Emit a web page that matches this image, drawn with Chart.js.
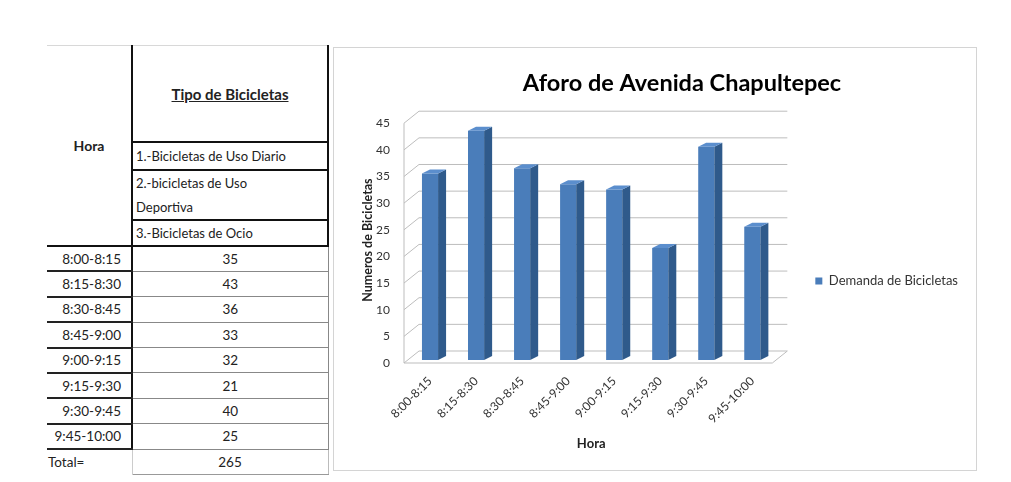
<!DOCTYPE html>
<html>
<head>
<meta charset="utf-8">
<script src="https://cdn.jsdelivr.net/npm/chart.js@4.4.1/dist/chart.umd.min.js"></script>
<style>
  body{margin:0;background:#fff;width:1011px;height:482px;overflow:hidden;font-family:Lato,"Open Sans",sans-serif;position:relative;}
  .tabla{position:absolute;left:47px;top:45px;border-collapse:collapse;font-size:13.5px;color:#222;table-layout:fixed;}
  .tabla td{padding:0;vertical-align:middle;}
  .c1{width:85px;}
  .c2{width:196px;}
  .hora{border-top:1px solid #d8d8d8;border-right:2px solid #111;border-bottom:2px solid #111;text-align:center;font-weight:bold;font-size:14px;}
  .tipo{border-top:1px solid #d8d8d8;border-right:2px solid #111;border-bottom:2px solid #111;text-align:center;font-weight:bold;font-size:15px;text-decoration:underline;height:95px;}
  .item{border-right:2px solid #111;border-bottom:2px solid #111;padding-left:3px !important;line-height:24px;font-size:13px;}
  .hr{border-right:2px solid #111;border-bottom:2px solid #222;text-align:right;padding-right:10px !important;height:23.4px;}
  .val{border-right:1px solid #888;border-bottom:1px solid #888;text-align:center;}
  .tot{border-right:1px solid #ccc;text-align:left;padding-left:1px !important;height:24px;}
  .totv{border-right:1px solid #bbb;border-bottom:1px solid #999;text-align:center;}
  .marco{position:absolute;left:333px;top:47px;width:644px;height:424px;border:1px solid #d4d4d4;box-sizing:border-box;}
  .lienzo{position:absolute;left:333px;top:47px;width:698px;height:424px;}
</style>
</head>
<body>
<table class="tabla" id="tabla"></table>
<div class="marco"></div>
<div class="lienzo"><canvas id="grafica"></canvas></div>
<script>
var horas = ['8:00-8:15','8:15-8:30','8:30-8:45','8:45-9:00','9:00-9:15','9:15-9:30','9:30-9:45','9:45-10:00'];
var demanda = [35,43,36,33,32,21,40,25];
var tiposBici = ['1.-Bicicletas de Uso Diario','2.-bicicletas de Uso<br>Deportiva','3.-Bicicletas de Ocio'];
var yMax = 45;
var yPaso = 5;

// offsets for the fake 3d look
var FRENTE = {dx:-3, dy:3};
var FONDO = {dx:12, dy:-9};
var LADO = {dx:8, dy:-4};

function RenderTabla(){
  var t = document.getElementById('tabla');
  var alturas = [28,47,25];
  var html = '<colgroup><col class="c1"><col class="c2"></colgroup>';
  html += '<tr><td class="hora" rowspan="4">Hora</td><td class="tipo">Tipo de Bicicletas</td></tr>';
  for(var i=0;i<tiposBici.length;i++){
    html += '<tr><td class="item" style="height:'+(alturas[i]-2)+'px">'+tiposBici[i]+'</td></tr>';
  }
  var total = 0;
  for(var j=0;j<horas.length;j++){
    total += demanda[j];
    html += '<tr><td class="hr">'+horas[j]+'</td><td class="val">'+demanda[j]+'</td></tr>';
  }
  html += '<tr><td class="tot">Total=</td><td class="totv">'+total+'</td></tr>';
  t.innerHTML = html;
}

function linea(ctx,x1,y1,x2,y2){
  ctx.beginPath(); ctx.moveTo(x1,y1); ctx.lineTo(x2,y2); ctx.stroke();
}
function poligono(ctx,pts){
  ctx.beginPath(); ctx.moveTo(pts[0][0],pts[0][1]);
  for(var i=1;i<pts.length;i++) ctx.lineTo(pts[i][0],pts[i][1]);
  ctx.closePath(); ctx.fill();
}

var paredes3d = {
  id:'paredes3d',
  beforeDatasetsDraw(chart){
    var ctx = chart.ctx, a = chart.chartArea, y = chart.scales.y;
    ctx.save();
    ctx.strokeStyle = '#bdbdbd';
    ctx.lineWidth = 1;
    y.ticks.forEach(function(t){
      var py = y.getPixelForValue(t.value);
      linea(ctx, a.left+FRENTE.dx, py+FRENTE.dy, a.left+FONDO.dx, py+FONDO.dy);
      linea(ctx, a.left+FONDO.dx, py+FONDO.dy, a.right+FONDO.dx, py+FONDO.dy);
    });
    var y0 = y.getPixelForValue(0), yt = y.getPixelForValue(yMax);
    linea(ctx, a.left+FRENTE.dx, y0+FRENTE.dy, a.left+FRENTE.dx, yt+FRENTE.dy);
    linea(ctx, a.left+FRENTE.dx, y0+FRENTE.dy, a.right+FRENTE.dx, y0+FRENTE.dy);
    linea(ctx, a.right+FRENTE.dx, y0+FRENTE.dy, a.right+FONDO.dx, y0+FONDO.dy);
    ctx.restore();
  },
  afterDatasetsDraw(chart){
    var ctx = chart.ctx;
    ctx.save();
    chart.getDatasetMeta(0).data.forEach(function(bar){
      var p = bar.getProps(['x','y','base','width'], true);
      var l = p.x - p.width/2, r = p.x + p.width/2;
      ctx.fillStyle = '#2f5a8b';
      poligono(ctx, [[r,p.y],[r+LADO.dx,p.y+LADO.dy],[r+LADO.dx,p.base+LADO.dy],[r,p.base]]);
      ctx.fillStyle = '#5b8ecd';
      poligono(ctx, [[l,p.y],[l+LADO.dx,p.y+LADO.dy],[r+LADO.dx,p.y+LADO.dy],[r,p.y]]);
    });
    ctx.restore();
  }
};

function RenderGrafica(){
  Chart.defaults.font.family = 'Lato, "Open Sans", sans-serif';
  new Chart(document.getElementById('grafica'), {
    type:'bar',
    data:{
      labels:horas,
      datasets:[{
        label:'Demanda de Bicicletas',
        data:demanda,
        backgroundColor:'#4a7dba',
        borderWidth:0,
        barPercentage:0.35,
        categoryPercentage:1
      }]
    },
    options:{
      responsive:true,
      maintainAspectRatio:false,
      animation:false,
      layout:{padding:{left:41,right:41,top:0,bottom:0}},
      plugins:{
        title:{display:true,text:'Aforo de Avenida Chapultepec',color:'#000',
          font:{size:23.5,weight:'bold'},padding:{top:22,bottom:23}},
        legend:{
          position:'right',
          maxWidth:240,
          // empty title only pushes the item down a bit
          title:{display:true,text:' ',font:{size:10},padding:{top:16,bottom:16}},
          labels:{boxWidth:7,boxHeight:7,color:'#333',font:{size:13},padding:10}
        },
        tooltip:{enabled:false}
      },
      scales:{
        x:{
          grid:{display:false,drawTicks:false},
          border:{display:false},
          ticks:{minRotation:45,maxRotation:45,autoSkip:false,padding:14,color:'#333',font:{size:12}},
          title:{display:true,text:'Hora',color:'#222',font:{size:13,weight:'bold'},padding:{top:0,bottom:19}},
          afterFit:function(s){ s.height = 111; }
        },
        y:{
          min:0,max:yMax,
          grid:{display:false,drawTicks:false},
          border:{display:false},
          ticks:{stepSize:yPaso,padding:17,labelOffset:3,color:'#333',font:{size:12}},
          title:{display:true,text:'Numeros de Bicicletas',color:'#222',font:{size:12.5,weight:'bold'},padding:{top:-13.5,bottom:0}},
          afterFit:function(s){ s.width = 33; }
        },
        // spacer between plot and legend
        yr:{
          position:'right',
          grid:{display:false},
          border:{display:false},
          ticks:{display:false},
          afterFit:function(s){ s.width = 30; }
        },
        // spacer outside the legend
        margen:{
          position:'right',
          fullSize:true,
          weight:2000,
          grid:{display:false},
          border:{display:false},
          ticks:{display:false},
          afterFit:function(s){ s.width = 22; }
        }
      }
    },
    plugins:[paredes3d]
  });
}

RenderTabla();
RenderGrafica();
</script>
</body>
</html>
